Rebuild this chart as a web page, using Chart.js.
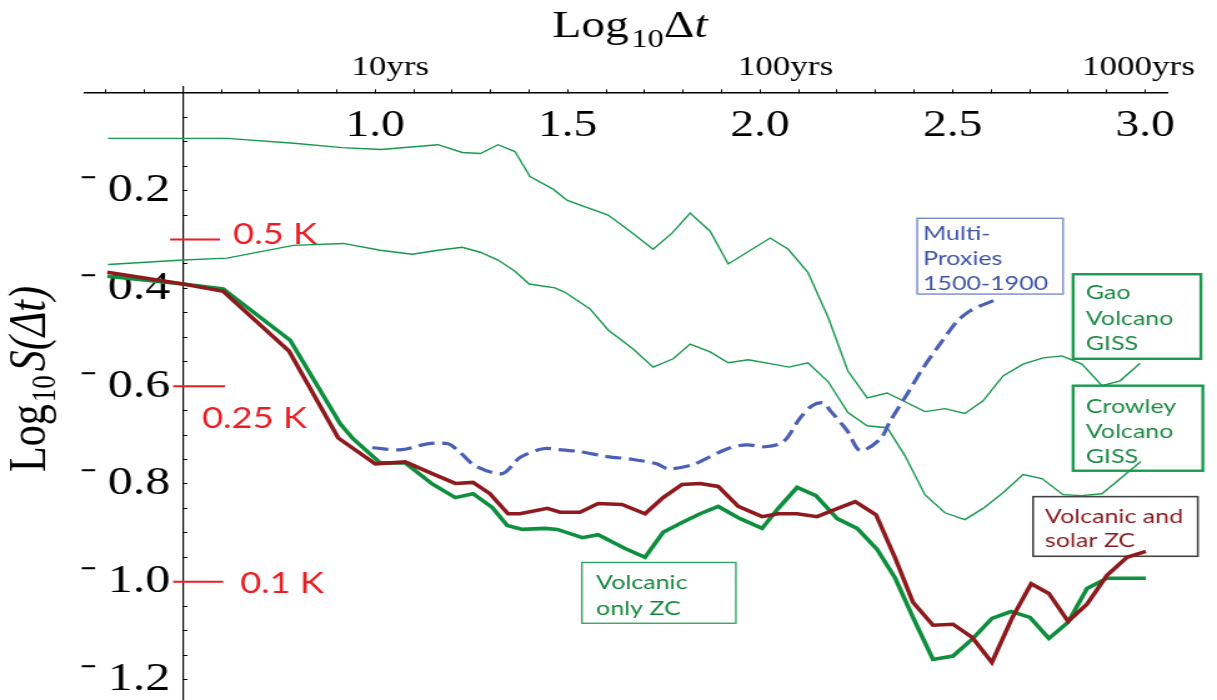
<!DOCTYPE html>
<html lang="en">
<head>
  <meta charset="UTF-8" />
  <title>Log10 S(Δt) vs Log10 Δt</title>
  <script src="https://cdn.jsdelivr.net/npm/chart.js"></script>
  <style>
    body {
      margin: 0;
      padding: 0;
      background: #fff;
      overflow: hidden;
    }
    /* the figure is a horizontally stretched plot: draw narrow, show wide */
    #chart {
      display: block;
      width: 1217px;
      height: 700px;
    }
  </style>
</head>
<body>
  <canvas id="chart" width="974" height="700" style="width:1217px;height:700px"></canvas>

  <script>
    // Gao Volcano GISS (thin green, upper)
    const gaoX = [0.306, 0.501, 0.615, 0.789, 0.914, 1.015, 1.163, 1.226, 1.273, 1.319, 1.363, 1.402, 1.462, 1.499, 1.605, 1.662, 1.722, 1.771, 1.818, 1.870,
                  1.917, 2.026, 2.073, 2.124, 2.177, 2.228, 2.278, 2.330, 2.428, 2.480, 2.532, 2.579, 2.631, 2.683, 2.735, 2.784, 2.836, 2.888, 2.935, 2.987];
    const gaoY = [-0.093, -0.093, -0.093, -0.103, -0.112, -0.116, -0.106, -0.122, -0.124, -0.106, -0.120, -0.171, -0.197, -0.220, -0.250, -0.283, -0.320, -0.287, -0.246, -0.283,
                  -0.350, -0.297, -0.320, -0.367, -0.460, -0.569, -0.624, -0.614, -0.652, -0.646, -0.656, -0.630, -0.579, -0.555, -0.542, -0.538, -0.555, -0.599, -0.589, -0.553];

    // Crowley Volcano GISS (thin green, lower)
    const crowleyX = [0.306, 0.501, 0.615, 0.787, 0.917, 1.013, 1.096, 1.163, 1.226, 1.273, 1.319, 1.363, 1.400, 1.467, 1.493, 1.558, 1.605, 1.670, 1.722, 1.774, 1.818, 1.870,
                      1.917, 1.969, 2.026, 2.075, 2.124, 2.177, 2.228, 2.278, 2.330, 2.376, 2.428, 2.480, 2.532, 2.579, 2.631, 2.683, 2.732, 2.787, 2.836, 2.888, 2.989];
    const crowleyY = [-0.351, -0.342, -0.338, -0.312, -0.308, -0.322, -0.330, -0.322, -0.316, -0.326, -0.342, -0.365, -0.391, -0.399, -0.408, -0.442, -0.485, -0.524, -0.561, -0.544, -0.514, -0.530,
                      -0.552, -0.546, -0.554, -0.561, -0.552, -0.591, -0.654, -0.681, -0.685, -0.742, -0.822, -0.859, -0.873, -0.850, -0.818, -0.781, -0.789, -0.822, -0.824, -0.820, -0.754];

    // Volcanic only ZC (thick green)
    const volcX = [0.304, 0.501, 0.605, 0.779, 0.909, 0.943, 1.013, 1.078, 1.148, 1.208, 1.254, 1.304, 1.343, 1.382, 1.441, 1.473, 1.538, 1.579, 1.649, 1.701, 1.748, 1.797, 1.844,
                   1.891, 1.948, 2.005, 2.047, 2.096, 2.145, 2.200, 2.252, 2.304, 2.351, 2.397, 2.449, 2.501, 2.553, 2.602, 2.652, 2.701, 2.750, 2.800, 2.849, 2.901, 3.002];
    const volcY = [-0.375, -0.391, -0.401, -0.506, -0.677, -0.708, -0.757, -0.757, -0.800, -0.828, -0.820, -0.848, -0.885, -0.893, -0.891, -0.893, -0.910, -0.904, -0.932, -0.950, -0.899, -0.879, -0.861,
                   -0.846, -0.871, -0.891, -0.850, -0.807, -0.824, -0.871, -0.891, -0.934, -0.993, -1.073, -1.159, -1.152, -1.116, -1.075, -1.061, -1.073, -1.116, -1.083, -1.014, -0.993, -0.993];

    // Volcanic and solar ZC (thick dark red)
    const solarX = [0.304, 0.501, 0.605, 0.776, 0.904, 1.000, 1.078, 1.148, 1.208, 1.254, 1.298, 1.345, 1.376, 1.447, 1.480, 1.532, 1.579, 1.641, 1.701, 1.748, 1.797, 1.844, 1.891,
                    1.943, 2.005, 2.047, 2.096, 2.148, 2.195, 2.247, 2.301, 2.351, 2.397, 2.449, 2.501, 2.551, 2.602, 2.654, 2.704, 2.750, 2.800, 2.849, 2.901, 2.953, 3.002];
    const solarY = [-0.367, -0.391, -0.406, -0.528, -0.706, -0.759, -0.755, -0.779, -0.799, -0.797, -0.820, -0.861, -0.861, -0.850, -0.858, -0.858, -0.840, -0.842, -0.861, -0.828, -0.801, -0.799, -0.805,
                    -0.846, -0.867, -0.861, -0.861, -0.867, -0.852, -0.836, -0.863, -0.952, -1.042, -1.089, -1.087, -1.114, -1.165, -1.075, -1.004, -1.024, -1.081, -1.046, -0.987, -0.950, -0.938];

    // Multi-Proxies 1500-1900 (blue dashed)
    const proxyX = [0.992, 1.070, 1.135, 1.189, 1.221, 1.260, 1.330, 1.376, 1.436, 1.480, 1.532, 1.602, 1.670, 1.732, 1.761, 1.823, 1.865, 1.922,
                    1.966, 2.013, 2.060, 2.104, 2.135, 2.164, 2.182, 2.226, 2.260, 2.312, 2.338, 2.382, 2.423, 2.467, 2.512, 2.545, 2.571, 2.623];
    const proxyY = [-0.726, -0.730, -0.718, -0.718, -0.736, -0.763, -0.779, -0.746, -0.728, -0.730, -0.734, -0.744, -0.750, -0.759, -0.769, -0.761, -0.746, -0.726,
                    -0.720, -0.724, -0.714, -0.665, -0.640, -0.634, -0.650, -0.691, -0.732, -0.708, -0.671, -0.616, -0.563, -0.514, -0.467, -0.446, -0.436, -0.420];

    // axis ticks: labelled values and the minor step between marks
    const xMajor = [1.0, 1.5, 2.0, 2.5, 3.0];
    const yMajor = [-0.2, -0.4, -0.6, -0.8, -1.0, -1.2];
    const xTicks = Array.from({ length: 28 }, (_, i) => Math.round(3 + i) / 10);      // 0.3 .. 3.0
    const yTicks = Array.from({ length: 25 }, (_, i) => Math.round(-120 + 5 * i) / 100); // -1.2 .. 0

    // red reference levels (log10 of 0.5 K, 0.25 K, 0.1 K)
    const refLevels = [-0.3, -0.6, -1.0];
    const refLabels = ["0.5 K", "0.25 K", "0.1 K"];

    // top axis: time scale labels
    const yearTicks = [1.039, 2.066, 2.983];
    const yearLabels = ["10yrs", "100yrs", "1000yrs"];

    const toPoints = (xs, ys) => xs.map((x, i) => ({ x: x, y: ys[i] }));
    const isIn = (arr, v) => arr.some(a => Math.abs(a - v) < 1e-6);

    const SERIF = '"Liberation Serif", "DejaVu Serif", serif';
    const SANS = 'Lato, "Open Sans", sans-serif';

    // where the red marks and their texts sit (data units)
    const refLayout = [
      { x0: 0.467, x1: 0.597, tx: 0.631, ty: -0.310 },
      { x0: 0.475, x1: 0.610, tx: 0.550, ty: -0.685 },
      { x0: 0.475, x1: 0.605, tx: 0.649, ty: -1.024 },
    ];

    // label boxes (data units)
    const boxes = [
      { x0: 2.408, x1: 2.787, y0: -0.2565, y1: -0.4116, stroke: "#7083c7", lw: 1.3, color: "#3f55a8",
        tx: 2.423, lines: ["Multi-", "Proxies", "1500-1900"], ys: [-0.3014, -0.3524, -0.4035] },
      { x0: 2.813, x1: 3.145, y0: -0.371, y1: -0.544, stroke: "#1a9a4e", lw: 2.4, color: "#1b8a43",
        tx: 2.846, lines: ["Gao", "Volcano", "GISS"], ys: [-0.4218, -0.4749, -0.526] },
      { x0: 2.813, x1: 3.150, y0: -0.599, y1: -0.773, stroke: "#1a9a4e", lw: 2.4, color: "#1b8a43",
        tx: 2.846, lines: ["Crowley", "Volcano", "GISS"], ys: [-0.6545, -0.7055, -0.7565] },
      { x0: 2.709, x1: 3.137, y0: -0.826, y1: -0.948, stroke: "#444", lw: 1.6, color: "#8b1a1e",
        tx: 2.740, lines: ["Volcanic and", "solar ZC"], ys: [-0.879, -0.930] },
      { x0: 1.537, x1: 1.937, y0: -0.9606, y1: -1.085, stroke: "#2aa05a", lw: 1.3, color: "#17873f",
        tx: 1.574, lines: ["Volcanic", "only ZC"], ys: [-1.0157, -1.0688] },
    ];

    function drawRuns(ctx, x, y, runs) {
      let cx = x;
      runs.forEach(r => {
        ctx.font = r.font;
        ctx.fillText(r.text, cx, y + (r.dy || 0));
        cx += ctx.measureText(r.text).width + (r.gap || 0);
      });
    }

    const annotations = {
      id: "annotations",
      beforeDatasetsDraw(chart) {
        const { ctx, scales: { x, y } } = chart;
        ctx.save();
        ctx.textAlign = "left";
        ctx.textBaseline = "alphabetic";
        boxes.forEach(b => {
          ctx.strokeStyle = b.stroke;
          ctx.lineWidth = b.lw;
          const px0 = x.getPixelForValue(b.x0), px1 = x.getPixelForValue(b.x1);
          const py0 = y.getPixelForValue(b.y0), py1 = y.getPixelForValue(b.y1);
          ctx.strokeRect(px0, py0, px1 - px0, py1 - py0);
          ctx.fillStyle = b.color;
          ctx.font = "20px " + SANS;
          b.lines.forEach((t, i) => ctx.fillText(t, x.getPixelForValue(b.tx), y.getPixelForValue(b.ys[i])));
        });
        ctx.restore();
      },
      afterDraw(chart) {
        const { ctx, scales: { x, y } } = chart;
        ctx.save();
        ctx.fillStyle = "#000";
        ctx.textBaseline = "alphabetic";

        // top title
        ctx.textAlign = "left";
        drawRuns(ctx, x.getPixelForValue(1.46), 37, [
          { text: "Log", font: "38px " + SERIF, gap: 2 },
          { text: "10", font: "26px " + SERIF, dy: 10 },
          { text: "\u0394", font: "38px " + SERIF },
          { text: "t", font: "italic 38px " + SERIF },
        ]);

        // decades above the axis
        ctx.textAlign = "center";
        ctx.font = "28px " + SERIF;
        yearTicks.forEach((v, i) => ctx.fillText(yearLabels[i], x.getPixelForValue(v), 75));

        // y title, rotated
        ctx.save();
        ctx.translate(36, 472);
        ctx.rotate(-Math.PI / 2);
        ctx.textAlign = "left";
        drawRuns(ctx, 0, 0, [
          { text: "Log", font: "42px " + SERIF, gap: 2 },
          { text: "10", font: "27px " + SERIF, dy: 8, gap: 4 },
          { text: "S(", font: "italic 42px " + SERIF },
          { text: "\u0394t", font: "italic 42px " + SERIF },
          { text: ")", font: "italic 42px " + SERIF },
        ]);
        ctx.restore();

        // red temperature marks
        ctx.strokeStyle = "#ec1c24";
        ctx.fillStyle = "#ec1c24";
        ctx.lineWidth = 2;
        ctx.textAlign = "left";
        ctx.font = "29px " + SANS;
        refLevels.forEach((lv, i) => {
          const L = refLayout[i];
          const py = y.getPixelForValue(lv);
          ctx.beginPath();
          ctx.moveTo(x.getPixelForValue(L.x0), py);
          ctx.lineTo(x.getPixelForValue(L.x1), py);
          ctx.stroke();
          ctx.fillText(refLabels[i], x.getPixelForValue(L.tx), y.getPixelForValue(L.ty));
        });
        ctx.restore();
      },
    };

    // axes cross inside the plot, so their label sizes must not shrink it
    const noPadding = scale => {
      scale.paddingTop = 0;
      scale.paddingBottom = 0;
      scale.paddingLeft = 0;
      scale.paddingRight = 0;
    };

    const thin = { borderWidth: 1.4, pointRadius: 0, tension: 0, fill: false };
    const thick = { borderWidth: 3.6, pointRadius: 0, tension: 0, fill: false };

    new Chart(document.getElementById("chart").getContext("2d"), {
      type: "line",
      data: {
        datasets: [
          { label: "Volcanic and solar ZC", data: toPoints(solarX, solarY), borderColor: "#8e1a1e", ...thick },
          { label: "Volcanic only ZC", data: toPoints(volcX, volcY), borderColor: "#0d8f3d", ...thick },
          { label: "Multi-Proxies 1500-1900", data: toPoints(proxyX, proxyY), borderColor: "#4a60b6",
            borderWidth: 3.2, borderDash: [13, 6], pointRadius: 0, tension: 0.3, fill: false },
          { label: "Gao Volcano GISS", data: toPoints(gaoX, gaoY), borderColor: "#16994c", ...thin },
          { label: "Crowley Volcano GISS", data: toPoints(crowleyX, crowleyY), borderColor: "#16994c", ...thin },
        ],
      },
      options: {
        responsive: false,
        animation: false,
        devicePixelRatio: 1,
        layout: { padding: { left: 68, right: 40, top: 87, bottom: 0 } },
        plugins: {
          legend: { display: false },
          tooltip: { enabled: false },
        },
        scales: {
          x: {
            type: "linear",
            min: 0.246,
            max: 3.057,
            bounds: "data",
            position: { y: 0 },
            afterBuildTicks: axis => { axis.ticks = xTicks.map(v => ({ value: v })); },
            afterFit: noPadding,
            border: { color: "#000", width: 1.4 },
            grid: { drawOnChartArea: false, drawTicks: true, tickLength: -4, tickColor: "#000", tickWidth: 1 },
            ticks: {
              autoSkip: false,
              maxRotation: 0,
              padding: 14,
              color: "#000",
              font: { family: "Liberation Serif", size: 38 },
              callback: v => (isIn(xMajor, v) ? v.toFixed(1) : ""),
            },
          },
          y: {
            type: "linear",
            min: -1.242,
            max: 0.012,
            bounds: "data",
            position: { x: 0.5 },
            afterBuildTicks: axis => { axis.ticks = yTicks.map(v => ({ value: v })); },
            afterFit: noPadding,
            border: { color: "#000", width: 1.2 },
            grid: { drawOnChartArea: false, drawTicks: true, tickLength: -4, tickColor: "#000", tickWidth: 1 },
            ticks: {
              autoSkip: false,
              padding: 21,
              color: "#000",
              font: { family: "Liberation Serif", size: 40 },
              // the label sits right against the axis here, a trailing space keeps the gap
              callback: v => (isIn(yMajor, v) ? "\u207B\u2009" + Math.abs(v).toFixed(1) + " " : ""),
            },
          },
        },
      },
      plugins: [annotations],
    });
  </script>
</body>
</html>
